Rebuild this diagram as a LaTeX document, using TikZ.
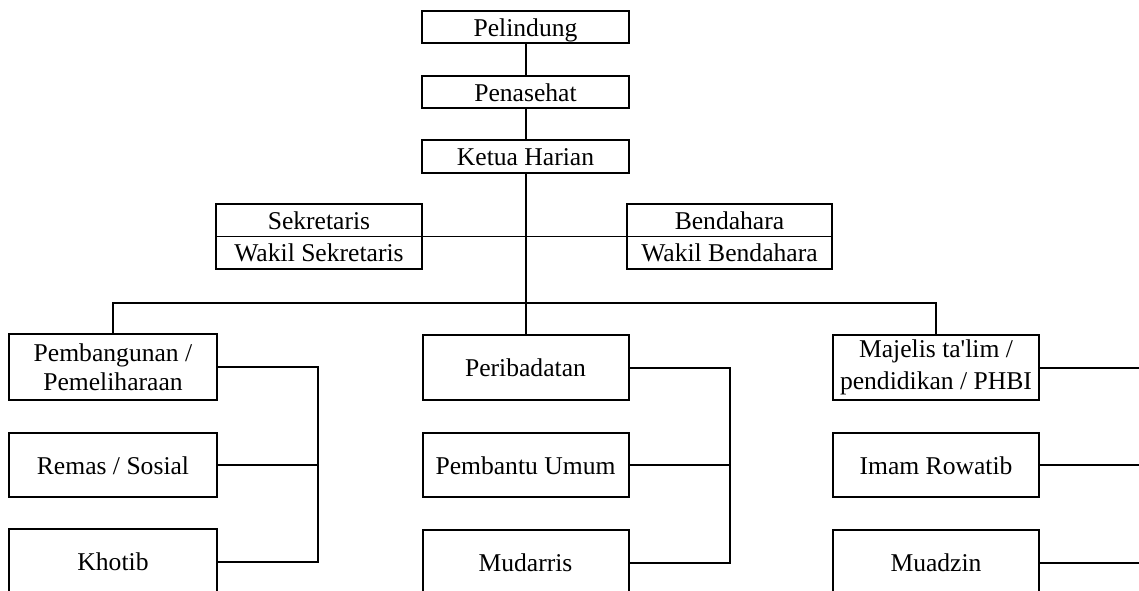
\documentclass[tikz,border=0pt]{standalone}
\usepackage{fontspec}
\setmainfont{Liberation Serif}
\begin{document}
\begin{tikzpicture}[x=1pt,y=-1pt,
  box/.style={draw,line width=2pt,inner sep=0pt,align=center,
    font=\fontsize{25.6}{30}\selectfont},
  one/.style={box,text height=18pt,text depth=0pt},
  conn/.style={line width=2pt},
  thin/.style={line width=1.3pt}]
\useasboundingbox (0,0) rectangle (1139,590);
\clip (0,0) rectangle (1139,590);
% top chain
\node[one,minimum width=207pt,minimum height=32pt] (pel) at (525.5,27) {Pelindung};
\node[one,minimum width=207pt,minimum height=32pt] (pen) at (525.5,92) {Penasehat};
\node[one,minimum width=207pt,minimum height=33pt] (ket) at (525.5,156.5) {Ketua Harian};
% secretary / treasurer
\node[box,minimum width=206pt,minimum height=65pt,font=\fontsize{25.6}{31.7}\selectfont] (sek) at (319,236.5) {Sekretaris\\Wakil Sekretaris};
\node[box,minimum width=205pt,minimum height=65pt,font=\fontsize{25.6}{31.7}\selectfont] (ben) at (729.5,236.5) {Bendahara\\Wakil Bendahara};
% left column
\node[box,minimum width=208pt,minimum height=66pt,font=\fontsize{25.6}{29.5}\selectfont] (pemb) at (113,367) {Pembangunan /\\Pemeliharaan};
\node[one,minimum width=208pt,minimum height=64pt] (rem) at (113,465) {Remas / Sosial};
\node[one,minimum width=208pt,minimum height=65pt] (kho) at (113,561.5) {Khotib};
% middle column
\node[one,minimum width=206pt,minimum height=65pt] (per) at (525.5,367.5) {Peribadatan};
\node[one,minimum width=206pt,minimum height=64pt] (pbu) at (525.5,465) {Pembantu Umum};
\node[one,minimum width=206pt,minimum height=65pt] (mud) at (525.5,562.5) {Mudarris};
% right column
\node[box,minimum width=206pt,minimum height=65pt,font=\fontsize{25.6}{32.5}\selectfont] (maj) at (936,367.5) {Majelis ta\textquotesingle lim /\\pendidikan / PHBI};
\node[one,minimum width=206pt,minimum height=64pt] (ima) at (936,465) {Imam Rowatib};
\node[one,minimum width=206pt,minimum height=65pt] (mua) at (936,562.5) {Muadzin};
% helper coordinates
\coordinate (bus) at (0,303);
\coordinate (bl) at (318,0);
\coordinate (bm) at (730,0);
\coordinate (br) at (1139,0);
% connectors
\draw[conn] (pel.south) -- (pen.north);
\draw[conn] (pen.south) -- (ket.north);
\draw[conn] (ket.south) -- (per.north);
\draw[thin] (sek.west) -- (ben.east);
\draw[conn] (pemb.north) -- (pemb.north |- bus) -| (maj.north);
\draw[conn] (pemb.east) -- (pemb.east -| bl) |- (kho.east);
\draw[conn] (rem.east) -- (rem.east -| bl);
\draw[conn] (per.east) -- (per.east -| bm) |- (mud.east);
\draw[conn] (pbu.east) -- (pbu.east -| bm);
\draw[conn] (maj.east) -- (maj.east -| br);
\draw[conn] (ima.east) -- (ima.east -| br);
\draw[conn] (mua.east) -- (mua.east -| br);
\end{tikzpicture}
\end{document}
